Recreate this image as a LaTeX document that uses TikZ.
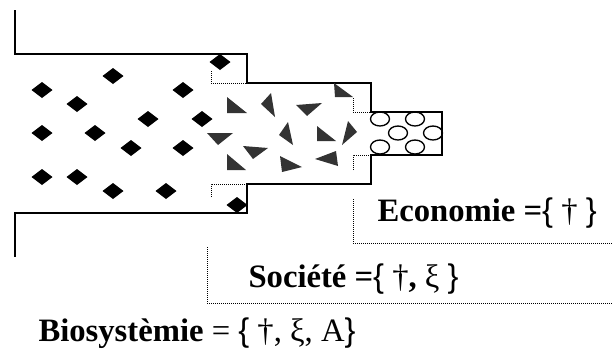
\documentclass[tikz,border=0pt]{standalone}
\usepackage{fontspec}
\setmainfont{Liberation Serif}
\newfontfamily\bracefont{Liberation Sans}
\definecolor{shardgray}{RGB}{51,51,51}
\tikzset{every picture/.style={line width=0.75pt}}
\tikzset{
  wall/.style={line width=1.1pt, line join=miter},
  seam/.style={line width=0.75pt, dash pattern=on 0.75pt off 0.75pt},
  diam/.style={fill=black},
  shard/.style={fill=shardgray},
  bubble/.style={line width=1pt},
  caption/.style={anchor=base west, inner sep=0pt, font=\fontsize{24.5}{29}\selectfont}
}
\newcommand{\lbr}{{\bracefont\fontseries{m}\selectfont\{}}
\newcommand{\rbr}{{\bracefont\fontseries{m}\selectfont\}}}

\begin{document}
\begin{tikzpicture}[x=0.75pt,y=0.75pt,yscale=-1,xscale=1]
\useasboundingbox (0,0) rectangle (613,361);

%Shape: Outer wall
\draw[wall] (15,10) -- (15,54) -- (247,54) -- (247,83) -- (371,83) -- (371,112) -- (442,112) -- (442,155) -- (371,155) -- (371,184) -- (247,184) -- (247,213) -- (15,213) -- (15,257) ;

%Dotted seams
\draw[seam] (211,71) -- (211,83) -- (247,83) ;
\draw[seam] (211,197) -- (211,184) -- (247,184) ;
\draw[seam] (353,98) -- (353,112) -- (371,112) ;
\draw[seam] (353,170) -- (353,155) -- (371,155) ;
%Dotted frames of the labels
\draw[seam] (353,199) -- (353,243) -- (613,243) ;
\draw[seam] (207,247) -- (207,303) -- (613,303) ;

%Shape: Diamonds
\fill[diam] (42,90) ++(-10.5,0) -- ++(10.5,-8) -- ++(10.5,8) -- ++(-10.5,8) -- cycle ;
\fill[diam] (113,76) ++(-10.5,0) -- ++(10.5,-8) -- ++(10.5,8) -- ++(-10.5,8) -- cycle ;
\fill[diam] (77,104) ++(-10.5,0) -- ++(10.5,-8) -- ++(10.5,8) -- ++(-10.5,8) -- cycle ;
\fill[diam] (183,90) ++(-10.5,0) -- ++(10.5,-8) -- ++(10.5,8) -- ++(-10.5,8) -- cycle ;
\fill[diam] (148,119) ++(-10.5,0) -- ++(10.5,-8) -- ++(10.5,8) -- ++(-10.5,8) -- cycle ;
\fill[diam] (202,119) ++(-10.5,0) -- ++(10.5,-8) -- ++(10.5,8) -- ++(-10.5,8) -- cycle ;
\fill[diam] (42,133) ++(-10.5,0) -- ++(10.5,-8) -- ++(10.5,8) -- ++(-10.5,8) -- cycle ;
\fill[diam] (95,133) ++(-10.5,0) -- ++(10.5,-8) -- ++(10.5,8) -- ++(-10.5,8) -- cycle ;
\fill[diam] (131,148) ++(-10.5,0) -- ++(10.5,-8) -- ++(10.5,8) -- ++(-10.5,8) -- cycle ;
\fill[diam] (183,148) ++(-10.5,0) -- ++(10.5,-8) -- ++(10.5,8) -- ++(-10.5,8) -- cycle ;
\fill[diam] (42,177) ++(-10.5,0) -- ++(10.5,-8) -- ++(10.5,8) -- ++(-10.5,8) -- cycle ;
\fill[diam] (77,177) ++(-10.5,0) -- ++(10.5,-8) -- ++(10.5,8) -- ++(-10.5,8) -- cycle ;
\fill[diam] (113,191) ++(-10.5,0) -- ++(10.5,-8) -- ++(10.5,8) -- ++(-10.5,8) -- cycle ;
\fill[diam] (166,191) ++(-10.5,0) -- ++(10.5,-8) -- ++(10.5,8) -- ++(-10.5,8) -- cycle ;
\fill[diam] (220,62) ++(-10.5,0) -- ++(10.5,-8) -- ++(10.5,8) -- ++(-10.5,8) -- cycle ;
\fill[diam] (237,205) ++(-10.5,0) -- ++(10.5,-8) -- ++(10.5,8) -- ++(-10.5,8) -- cycle ;

%Shape: Triangles
\fill[shard] (334,83) -- (335,97) -- (353,97) -- cycle ;
\fill[shard] (227,97) -- (227,113) -- (247,113) -- cycle ;
\fill[shard] (271,93) -- (261,104) -- (275,117) -- cycle ;
\fill[shard] (296,105) -- (322,103) -- (307,116) -- cycle ;
\fill[shard] (207,133) -- (233,133) -- (218,145) -- cycle ;
\fill[shard] (243,146) -- (268,148) -- (253,159) -- cycle ;
\fill[shard] (227,154) -- (227,170) -- (246,170) -- cycle ;
\fill[shard] (288,122) -- (279,135) -- (293,145) -- cycle ;
\fill[shard] (280,156) -- (282,172) -- (302,167) -- cycle ;
\fill[shard] (317,126) -- (317,141) -- (336,141) -- cycle ;
\fill[shard] (348,121) -- (357,132) -- (342,145) -- cycle ;
\fill[shard] (315,159) -- (336,151) -- (338,166) -- cycle ;

%Shape: Circles
\draw[bubble] (380,119) ellipse [x radius=9.5, y radius=7] ;
\draw[bubble] (415,119) ellipse [x radius=9.5, y radius=7] ;
\draw[bubble] (398,133) ellipse [x radius=9.5, y radius=7] ;
\draw[bubble] (433,133) ellipse [x radius=9.5, y radius=7] ;
\draw[bubble] (380,147) ellipse [x radius=9.5, y radius=7] ;
\draw[bubble] (415,147) ellipse [x radius=9.5, y radius=7] ;

% Text Node
\node[caption] (eco) at (377,221) {\textbf{Economie =}\lbr{} † \rbr};
% Text Node
\node[caption] (soc) at (248,287) {\textbf{Société =}\lbr{} †\textbf{,} ξ \rbr};
% Text Node
\node[caption] (bio) at (38,341) {\textbf{Biosystèmie} = \lbr{} †, ξ, A\rbr};

\end{tikzpicture}
\end{document}
